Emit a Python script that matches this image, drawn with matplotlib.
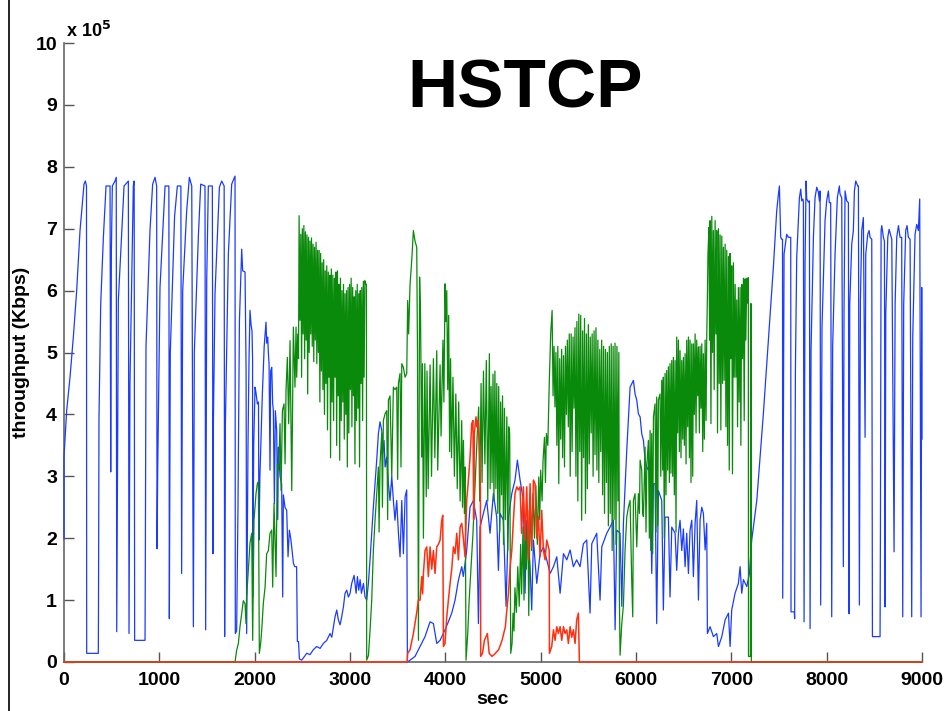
import matplotlib
matplotlib.use("Agg")
import matplotlib.pyplot as plt
from matplotlib.lines import Line2D

plt.rcParams['font.family'] = ['Liberation Sans', 'DejaVu Sans']

# throughput in units of 10^5 Kbps, time in sec
blue_pts = [
(0,1.99),(0,3.31),(28,4.06),(63,4.6),(98,5.25),(133,6.0),(168,6.97),(210,7.72),(224,7.77),(236,7.69),(238,0.14),(360,0.14),(362,0.95),(367,3.93),(385,5.78),(413,6.86),(441,7.69),(483,7.69),(490,3.07),(497,6.64),(507,7.69),(535,7.77),(548,7.83),(553,0.49),(570,5.84),(630,7.69),(675,7.77),(682,0.46),(692,4.5),(727,7.69),(736,7.77),(741,0.35),(850,0.35),(853,1.54),(860,5.09),(902,6.97),(930,7.72),(955,7.83),(972,7.69),(976,1.83),(983,3.1),(1007,6.05),(1060,7.69),(1100,7.69),(1105,0.7),(1115,5.0),(1160,7.2),(1189,7.69),(1226,7.69),(1234,1.43),(1245,6.0),(1287,7.29),(1315,7.83),(1340,7.69),(1357,0.57),(1367,5.0),(1409,6.86),(1434,7.72),(1479,7.69),(1486,0.52),(1497,6.16),(1514,7.69),(1556,7.69),(1563,1.75),(1567,3.85),(1584,5.95),(1630,7.67),(1654,7.77),(1680,7.69),(1685,0.41),(1693,3.85),(1724,6.59),(1759,7.72),(1794,7.85),(1797,0.46),(1811,0.5),(1825,2.5),(1840,5.5),(1864,6.67),(1874,6.32),(1899,6.3),(1910,4.71),(1916,0.46),(1930,3.5),(1941,4.92),(1951,5.68),(1962,5.45),(1972,5.35),(1978,4.9),(1979,1.05),(1990,3.5),(2004,4.44),(2014,4.35),(2028,4.17),(2040,4.2),(2045,1.97),(2055,3.0),(2080,4.3),(2100,5.1),(2119,5.49),(2126,5.15),(2137,5.25),(2144,4.98),(2151,4.82),(2161,3.1),(2168,4.7),(2179,4.76),(2189,4.17),(2196,4.06),(2207,2.56),(2217,4.06),(2231,3.74),(2242,2.3),(2249,3.47),(2266,3.0),(2283,2.88),(2294,1.05),(2301,2.7),(2318,2.5),(2336,2.45),(2350,1.7),(2364,2.13),(2378,2.0),(2392,1.81),(2406,1.6),(2420,1.54),(2440,1.54),(2448,0.33),(2460,0.33),(2469,0.05),
(2494,0.03),(2546,0.14),(2581,0.12),(2616,0.2),(2651,0.25),(2686,0.22),(2721,0.3),(2756,0.35),(2791,0.46),(2809,0.4),(2826,0.57),(2843,0.73),(2861,0.84),(2878,0.68),(2896,0.6),(2913,0.73),(2931,0.89),(2948,1.11),(2966,1.16),(2983,1.05),(3001,1.11),(3018,1.27),(3043,1.4),(3064,1.11),(3078,1.38),(3092,1.16),(3106,1.33),(3120,1.11),(3141,1.27),(3158,1.05),(3175,1.0),(3193,1.27),(3210,1.65),(3228,2.08),(3245,2.5),(3263,2.88),(3280,3.26),(3298,3.69),(3315,3.88),(3333,3.74),(3343,3.37),(3357,3.58),(3368,3.15),(3385,3.31),(3403,2.88),(3420,2.61),(3438,3.0),(3455,2.61),(3472,2.29),(3490,2.61),(3508,2.08),(3525,1.7),(3543,2.61),(3560,1.75),(3578,2.67),(3595,2.78),(3602,0.0),(3630,0.03),(3682,0.09),(3735,0.25),(3787,0.41),(3840,0.65),(3875,0.62),(3910,0.3),(3945,0.35),(3997,0.52),(4032,0.65),(4067,0.79),(4102,1.0),(4137,1.32),(4172,1.54),(4189,1.38),(4224,1.8),(4259,2.5),(4294,2.61),(4329,2.29),(4347,0.62),(4364,2.18),(4399,2.4),(4434,2.61),(4469,2.08),(4504,2.72),(4539,2.34),(4557,1.48),(4574,2.4),(4609,2.29),(4637,0.9),(4662,2.34),(4697,2.72),(4731,2.94),(4756,3.26),(4784,2.94),(4819,2.61),(4836,1.11),(4854,2.29),(4889,1.54),(4906,0.84),(4924,1.97),(4959,1.27),(4994,1.75),(5029,1.86),(5064,1.65),(5099,1.43),(5134,1.54),(5169,1.7),(5204,1.11),(5239,1.75),(5274,1.65),(5309,1.81),(5343,1.54),(5378,1.65),(5413,1.54),(5448,1.91),(5483,1.97),(5518,0.79),(5536,1.91),(5588,2.08),(5623,1.0),(5641,1.86),(5693,2.08),(5728,2.18),(5763,2.29),(5781,0.52),(5798,2.13),(5833,2.08),(5851,0.9),(5868,2.24),(5903,3.42),(5938,4.44),(5973,4.55),(5990,4.33),(6008,4.23),(6025,4.01),(6043,3.96),(6060,3.69),(6078,3.58),(6095,3.26),(6113,3.15),(6130,3.1),(6148,3.26),(6165,1.43),(6183,2.88),(6200,2.88),(6217,0.62),(6235,2.77),(6270,2.61),(6287,0.84),(6305,2.34),(6340,2.34),(6357,1.05),(6375,2.18),(6410,2.08),(6427,1.48),(6445,2.08),(6462,2.29),(6480,1.8),(6497,2.15),(6515,1.54),(6532,2.08),(6550,1.43),(6567,2.13),(6585,2.29),(6602,1.38),(6620,2.24),(6637,2.61),(6655,1.0),(6672,2.29),(6690,2.5),(6707,2.4),(6725,1.81),(6742,2.24),(6749,0.46),(6777,0.57),(6812,0.41),(6847,0.46),(6865,0.25),(6900,0.41),(6935,0.68),(6970,0.79),(6987,0.25),(7004,0.84),(7039,1.11),(7074,1.27),(7092,1.54),(7109,1.11),(7127,1.33),(7162,1.22),(7190,1.43),(7214,1.97),(7267,2.61),(7301,3.3),(7336,4.01),(7371,4.8),(7406,5.57),(7441,6.38),(7476,7.29),(7490,7.5),(7504,7.69),
(7518,6.86),(7528,6.83),(7537,6.83),(7539,1.03),(7553,6.59),(7581,6.91),(7598,6.86),(7623,6.86),(7626,0.81),(7661,0.81),(7664,0.7),(7672,4.71),(7686,6.54),(7714,7.5),(7728,7.64),(7738,7.45),(7750,7.48),(7756,7.43),(7763,0.65),(7773,6.43),(7784,7.77),(7791,7.48),(7808,7.43),(7819,7.45),(7826,0.54),(7836,5.03),(7861,6.86),(7878,7.5),(7896,7.67),(7913,7.59),(7924,7.45),(7931,7.61),(7937,0.92),(7951,5.4),(7983,7.13),(8000,7.45),(8018,7.61),(8028,7.42),(8042,7.42),(8053,0.73),(8063,5.1),(8088,6.59),(8112,7.5),(8133,7.69),(8140,7.56),(8158,7.5),(8175,1.54),(8182,5.68),(8193,7.61),(8210,7.45),(8228,7.42),(8235,0.78),(8242,5.78),(8263,6.75),(8280,6.97),(8291,7.61),(8305,7.77),(8326,7.69),(8333,7.69),(8343,0.92),(8354,5.84),(8368,6.97),(8385,7.18),(8403,3.63),(8410,6.59),(8431,6.91),(8445,6.97),(8455,6.86),(8473,6.83),(8480,0.41),(8560,0.41),(8564,2.13),(8571,6.97),(8578,7.05),(8595,6.86),(8606,6.8),(8613,0.89),(8620,5.62),(8641,6.86),(8655,6.99),(8669,6.91),(8683,6.83),(8707,1.78),(8718,5.78),(8735,6.86),(8753,7.05),(8770,6.86),(8787,6.86),(8798,0.73),(8808,5.78),(8829,6.97),(8843,7.05),(8857,6.86),(8875,6.83),(8892,0.73),(8903,5.25),(8927,6.91),(8945,7.07),(8962,6.97),(8976,7.48),(8990,0.73),(8997,6.05),(9000,3.6)]

green_pts = [
(0,0.0),(1794,0.0),(1811,0.19),(1829,0.3),(1846,0.57),(1864,0.78),(1881,0.99),(1899,0.94),(1909,0.62),(1916,1.05),(1934,1.5),(1951,1.92),(1962,2.02),(1969,2.08),(1979,0.35),(1993,2.29),(2014,2.72),(2028,2.88),(2039,2.91),(2049,0.14),(2063,0.3),(2074,0.52),(2091,0.95),(2109,1.21),(2126,1.75),(2144,1.8),(2161,2.08),(2179,2.13),(2189,1.21),(2203,2.56),(2224,1.38),(2238,3.2),(2252,3.1),(2266,3.85),(2277,2.77),(2291,4.06),(2308,4.17),(2319,3.2),(2329,4.39),(2343,4.92),(2357,3.85),(2371,5.19),(2389,2.77),(2406,5.41),(2423,4.44),(2434,5.41),(2441,4.6),(2452,5.3),(2460,4.9),
(2466,7.21),(2475,5.52),(2484,6.91),(2492,4.6),(2500,7.0),(2508,5.3),(2516,7.05),(2524,4.9),(2532,6.95),(2540,5.2),(2548,6.9),(2556,4.33),(2564,6.86),(2572,5.0),(2580,6.8),(2588,5.3),(2596,6.85),(2604,5.1),(2612,6.75),(2620,4.85),(2628,6.7),(2636,5.2),(2644,6.78),(2652,4.82),(2660,6.65),(2668,5.0),(2676,6.65),(2684,4.2),(2692,6.6),(2700,4.7),(2708,6.45),(2716,4.4),(2724,6.5),(2732,4.0),(2740,6.32),(2748,4.5),(2756,6.4),(2764,3.75),(2772,6.3),(2780,4.6),(2788,6.25),(2796,3.3),(2804,6.35),(2812,4.2),(2820,6.25),(2828,3.9),(2836,6.2),(2844,4.6),(2852,6.3),(2860,3.5),(2868,6.32),(2876,4.3),(2884,6.1),(2892,3.26),(2900,6.2),(2908,3.9),(2916,6.0),(2924,4.2),(2932,6.1),(2940,3.6),(2948,5.95),(2956,4.0),(2964,6.0),(2972,3.15),(2980,6.05),(2988,3.7),(2996,6.1),(3004,4.4),(3012,6.2),(3020,3.8),(3028,6.05),(3036,4.3),(3044,5.9),(3052,3.2),(3060,6.0),(3068,3.9),(3076,6.1),(3084,4.1),(3092,5.95),(3100,3.15),(3108,6.0),(3116,4.5),(3124,6.05),(3132,3.9),(3140,6.15),(3148,4.6),(3156,6.16),(3165,6.1),(3172,6.1),(3175,0.03),
(3193,0.1),(3210,0.5),(3228,1.0),(3245,1.8),(3263,2.3),(3280,2.72),(3298,3.15),(3305,2.1),(3315,3.2),(3333,3.7),(3340,2.5),(3350,3.9),(3368,4.01),(3385,4.06),(3395,2.3),(3403,4.23),(3420,4.3),(3438,3.0),(3455,4.44),(3472,4.4),(3490,4.44),(3500,2.95),(3508,4.5),(3525,4.66),(3535,3.15),(3543,4.82),(3560,4.76),(3578,4.6),(3595,4.66),(3605,5.84),(3615,5.3),(3630,6.1),(3648,6.5),(3665,6.97),(3682,6.8),(3700,6.7),(3708,5.0),(3718,0.35),(3730,6.22),(3740,5.6),(3752,3.31),(3760,4.82),(3770,2.0),(3785,4.82),(3800,2.67),(3808,4.7),(3820,2.8),(3840,4.8),(3855,3.0),(3875,4.9),(3890,3.3),(3910,5.03),(3920,3.1),(3945,4.8),(3955,3.65),(3975,5.2),(3985,4.2),(3997,6.11),(4005,5.5),(4015,6.0),(4025,4.4),(4035,5.6),(4045,3.4),(4055,4.9),(4065,3.3),(4080,4.6),(4095,3.0),(4110,4.33),(4125,2.8),(4140,4.2),(4155,2.6),(4172,3.9),(4180,2.5),(4190,3.58),(4200,2.4),(4207,3.15),(4217,0.03),
(4235,0.46),(4250,1.0),(4270,1.54),(4290,2.08),(4305,2.6),(4320,3.15),(4335,3.69),(4350,4.12),(4360,2.6),(4375,4.5),(4385,2.9),(4400,4.7),(4415,3.2),(4430,4.87),(4445,2.6),(4462,4.98),(4470,2.8),(4480,4.45),(4490,2.9),(4500,4.65),(4510,2.6),(4520,4.7),(4530,2.8),(4540,4.5),(4550,2.4),(4560,4.45),(4570,2.1),(4580,4.2),(4590,2.7),(4600,4.3),(4610,1.9),(4620,4.1),(4630,2.3),(4645,3.96),(4655,1.8),(4665,3.8),(4675,3.69),(4686,0.14),
(4700,0.3),(4710,0.79),(4720,0.5),(4730,1.2),(4745,0.8),(4760,1.54),(4775,0.9),(4790,1.9),(4800,1.1),(4815,2.18),(4825,1.0),(4840,2.3),(4850,1.5),(4865,2.45),(4875,0.75),(4890,2.6),(4905,1.8),(4920,2.72),(4935,2.0),(4950,2.85),(4965,1.9),(4980,2.99),(4990,2.3),(5000,3.1),(5015,2.6),(5025,3.26),(5040,3.63),(5050,2.9),(5060,3.69),(5075,3.5),(5090,4.5),(5105,5.3),(5120,5.68),
(5130,4.3),(5140,5.1),(5150,4.12),(5160,5.0),(5170,3.5),(5180,5.1),(5190,2.88),(5200,4.9),(5210,3.6),(5220,5.05),(5230,3.3),(5240,4.95),(5250,3.15),(5260,5.1),(5270,4.0),(5280,5.2),(5290,3.8),(5300,5.3),(5310,3.0),(5320,5.3),(5330,3.4),(5340,5.25),(5350,4.1),(5360,5.4),(5370,3.0),(5380,5.5),(5390,2.6),(5400,5.62),(5410,3.4),(5420,5.6),(5430,2.29),(5440,5.35),(5450,3.3),(5460,5.55),(5470,2.4),(5480,5.3),(5490,2.8),(5500,5.45),(5510,3.2),(5520,5.25),(5530,3.7),(5540,5.3),(5550,3.0),(5560,5.35),(5570,3.35),(5580,5.4),(5590,3.1),(5600,5.2),(5610,2.9),(5620,5.05),(5630,3.4),(5640,5.2),(5650,2.7),(5660,5.1),(5670,2.4),(5680,5.05),(5690,2.9),(5700,5.0),(5710,2.2),(5720,5.1),(5730,2.4),(5740,5.14),(5750,1.8),(5760,5.1),(5770,2.3),(5780,5.15),(5790,1.9),(5800,5.1),(5810,2.6),(5820,5.0),(5826,1.0),(5833,0.11),
(5850,0.6),(5868,0.92),(5885,1.8),(5903,2.34),(5920,2.5),(5938,2.61),(5955,1.32),(5966,0.73),(5973,2.61),(5990,2.72),(6008,1.86),(6025,2.72),(6036,2.4),(6043,3.26),(6060,3.1),(6070,2.4),(6078,2.35),(6095,3.47),(6105,2.1),(6113,3.15),(6130,3.58),(6140,2.0),(6148,3.74),(6155,1.8),(6165,3.69),(6175,1.75),(6183,3.96),(6200,4.17),(6210,2.1),(6217,4.28),(6228,2.2),(6235,4.23),(6252,4.33),(6260,3.0),(6270,4.55),(6280,3.1),(6287,4.6),(6297,2.0),(6305,4.66),(6315,2.7),(6322,4.71),(6332,3.1),(6340,4.77),(6350,2.9),(6357,4.82),(6367,3.05),(6375,4.87),(6385,3.0),(6392,4.92),(6402,2.7),(6410,4.87),(6420,2.1),(6427,5.25),(6437,3.7),(6445,5.2),(6455,3.4),(6462,5.03),(6472,3.3),(6480,4.87),(6490,3.6),(6497,4.92),(6507,3.5),(6515,4.98),(6525,3.2),(6532,5.2),(6542,3.8),(6550,5.25),(6560,3.3),(6567,5.2),(6577,2.9),(6585,5.14),(6595,3.0),(6602,5.14),(6612,4.0),(6620,5.3),(6630,3.7),(6637,5.2),(6647,4.3),(6655,5.09),(6665,3.7),(6672,5.1),(6682,4.1),(6690,5.14),(6700,3.4),(6707,4.98),(6717,3.6),(6725,5.2),(6735,3.9),(6742,5.25),(6749,5.9),
(6755,6.6),(6765,7.02),(6772,5.2),(6777,7.13),(6786,3.85),(6795,7.2),(6803,5.0),(6812,6.97),(6820,4.4),(6830,7.13),(6838,5.3),(6847,6.97),(6855,3.7),(6865,7.0),(6873,4.5),(6882,6.9),(6890,3.75),(6900,6.88),(6908,4.5),(6917,6.7),(6925,4.55),(6935,6.75),(6943,3.8),(6952,6.65),(6960,3.5),(6970,6.55),(6978,3.1),(6987,6.6),(6995,4.9),(7004,6.4),(7012,3.04),(7022,6.45),(7030,4.6),(7040,6.1),(7048,4.6),(7057,5.85),(7065,3.8),(7074,6.05),(7082,4.2),(7092,6.05),(7100,3.5),(7109,6.1),(7117,4.9),(7127,6.2),(7135,3.9),(7144,6.19),(7152,5.2),(7162,6.2),(7170,5.8),(7178,6.21),(7180,0.09),(7200,0.09),(7204,5.79),(7208,5.79),(7210,0.0),(9000,0.0)]

red_pts = [
(0,0.0),(3600,0.0),(3605,0.14),(3630,0.2),(3665,0.46),(3700,0.8),(3717,1.0),(3735,1.0),(3752,1.38),(3762,1.1),(3770,1.43),(3787,1.8),(3805,1.86),(3822,1.38),(3840,1.86),(3857,1.5),(3875,1.8),(3892,1.43),(3910,1.86),(3927,1.9),(3945,1.97),(3962,2.29),(3973,2.37),(3980,0.25),(3997,0.3),(4015,0.73),(4032,1.0),(4050,1.27),(4067,1.5),(4085,1.86),(4102,1.75),(4120,2.08),(4137,1.65),(4155,2.18),(4172,2.24),(4189,2.0),(4207,1.7),(4224,2.61),(4242,2.94),(4259,3.3),(4277,3.85),(4290,3.9),(4297,2.3),(4305,3.7),(4322,3.96),(4332,3.8),(4340,3.9),(4350,3.7),(4360,3.4),(4368,2.8),(4371,0.09),(4390,0.14),(4410,0.35),(4441,0.46),(4460,0.14),(4490,0.09),(4525,0.14),(4560,0.2),(4595,0.35),(4630,0.57),(4645,0.84),(4662,1.11),(4680,1.54),(4697,1.8),(4714,2.29),(4731,2.72),(4749,2.83),(4766,2.78),(4784,2.83),(4800,2.08),(4819,2.83),(4836,1.97),(4854,2.83),(4871,1.65),(4889,2.88),(4906,1.86),(4924,2.94),(4941,2.88),(4959,2.0),(4976,2.35),(4994,1.7),(5011,2.45),(5029,1.8),(5046,1.65),(5064,1.97),(5081,1.86),(5090,1.8),(5092,0.14),(5116,0.25),(5134,0.52),(5151,0.35),(5169,0.57),(5186,0.46),(5204,0.57),(5221,0.35),(5239,0.57),(5256,0.46),(5274,0.52),(5291,0.3),(5309,0.57),(5326,0.4),(5343,0.52),(5361,0.3),(5378,0.68),(5396,0.79),(5406,0.0),(9000,0.0)]

x_ticks = [0, 1000, 2000, 3000, 4000, 5000, 6000, 7000, 8000, 9000]
y_ticks = [0, 1, 2, 3, 4, 5, 6, 7, 8, 9, 10]
title_text = "HSTCP"
x_label = "sec"
y_label = "throughput (Kbps)"

W, H = 949, 711
fig = plt.figure(figsize=(W / 100, H / 100), dpi=100)
ax = fig.add_axes([64 / W, 1 - 662 / H, 858 / W, 619 / H])

def split(pts):
    return [p[0] for p in pts], [p[1] for p in pts]

for pts, col, lw in [(blue_pts, '#1a3cff', 0.9), (green_pts, '#0a8a0a', 0.9), (red_pts, '#ff3010', 1.1)]:
    t, v = split(pts)
    ax.plot(t, v, color=col, lw=lw, clip_on=False, zorder=3)

ax.set_xlim(0, 9000)
ax.set_ylim(0, 10)
ax.set_xticks(x_ticks)
ax.set_yticks(y_ticks)
ax.set_xticklabels([str(v) for v in x_ticks], fontsize=14, fontweight='bold')
ax.set_yticklabels([str(v) for v in y_ticks], fontsize=14, fontweight='bold')
ax.tick_params(direction='in', length=7, width=1, color='#555555')
ax.tick_params(axis='y', pad=5)
ax.tick_params(axis='x', pad=7)
for s in ['top', 'right']:
    ax.spines[s].set_visible(False)
for s in ['left', 'bottom']:
    ax.spines[s].set_color('#666666')
    ax.spines[s].set_linewidth(1.2)

ax.set_xlabel(x_label, fontsize=14, fontweight='bold', labelpad=2)
ax.set_ylabel(y_label, fontsize=14, fontweight='bold')
ax.yaxis.set_label_coords(-0.0396, 0.5)

fig.text(66 / W, 1 - 31 / H, r"x 10$^\mathbf{5}$", fontsize=13, fontweight='bold', va='center', ha='left')
fig.text(525 / W, 1 - 90 / H, title_text, fontsize=50, fontweight='bold', ha='center', va='center')

fig.add_artist(Line2D([8.5 / W, 8.5 / W], [0, 1], transform=fig.transFigure, color='black', lw=1.2))

fig.savefig("out.png", dpi=100)
